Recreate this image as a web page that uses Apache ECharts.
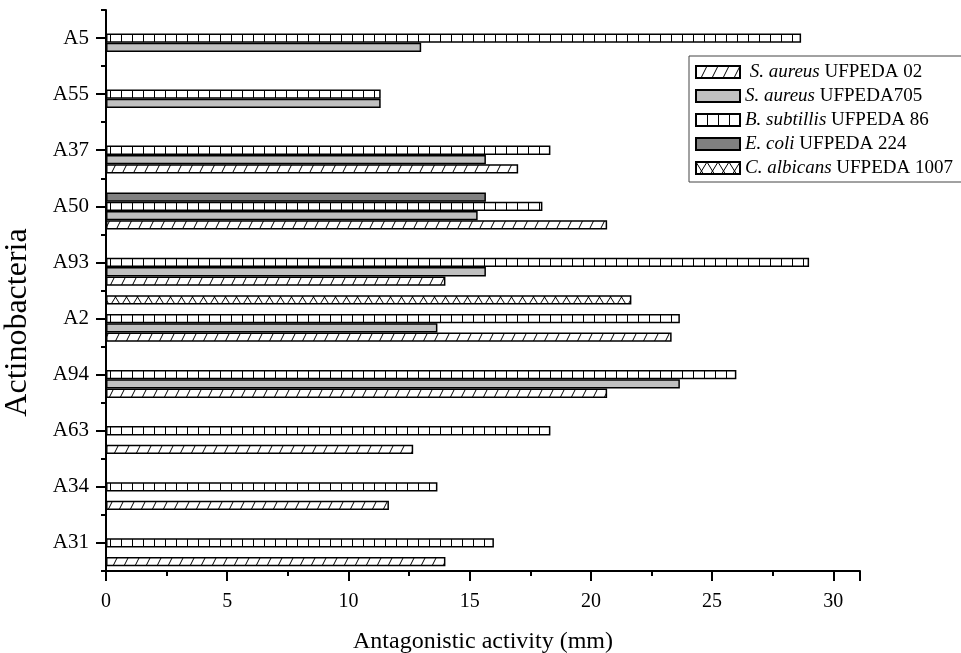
<!DOCTYPE html>
<html><head><meta charset="utf-8">
<script src="https://cdn.jsdelivr.net/npm/echarts@6/dist/echarts.min.js"></script>
<style>html,body{margin:0;padding:0;background:#fff}#c{width:961px;height:653px}</style>
</head><body><div id="c"></div>
<script>
// Data (categories from bottom to top)
const categories = ['A31','A34','A63','A94','A2','A93','A50','A37','A55','A5'];
const sAureus02   = [14.0, 11.67, 12.67, 20.67, 23.33, 14.0, 20.67, 17.0, null, null];
const sAureus705  = [null, null, null, 23.67, 13.67, 15.67, 15.33, 15.67, 11.33, 13.0];
const bSubtilis86 = [16.0, 13.67, 18.33, 26.0, 23.67, 29.0, 18.0, 18.33, 11.33, 28.67];
const eColi224    = [null, null, null, null, null, null, 15.67, null, null, null];
const cAlbicans   = [null, null, null, null, 21.67, null, null, null, null, null];
const xTicks = [0, 5, 10, 15, 20, 25, 30];

const FONT = '"Liberation Serif", "Times New Roman", serif';

function makeTile(w, h, draw) {
  const c = document.createElement('canvas');
  c.width = w; c.height = h;
  const g = c.getContext('2d');
  g.fillStyle = '#fff'; g.fillRect(0, 0, w, h);
  g.strokeStyle = '#000'; g.lineWidth = 1;
  draw(g, w, h);
  return {image: c, repeat: 'repeat'};
}
const hatch = makeTile(11, 22, (g, w, h) => {
  g.beginPath();
  for (let k = -1; k <= 1; k++) { g.moveTo(k * w, h); g.lineTo(k * w + w, 0); }
  g.stroke();
});
const vlines = makeTile(11, 4, (g, w, h) => {
  g.beginPath(); g.moveTo(0.5, 0); g.lineTo(0.5, h); g.stroke();
});
const cross = makeTile(11, 18, (g, w, h) => {
  g.beginPath();
  for (let k = -1; k <= 1; k++) {
    g.moveTo(k * w, h); g.lineTo(k * w + w, 0);
    g.moveTo(k * w, 0); g.lineTo(k * w + w, h);
  }
  g.stroke();
});

const names = {
  s02: 'S. aureus UFPEDA 02',
  s705: 'S. aureus UFPEDA705',
  bsub: 'B. subtillis UFPEDA 86',
  ecoli: 'E. coli UFPEDA 224',
  calb: 'C. albicans UFPEDA 1007'
};
const legendRich = {
  s02: ' {i|S. aureus} UFPEDA 02',
  s705: '{i|S. aureus} UFPEDA705',
  bsub: '{i|B. subtillis} UFPEDA 86',
  ecoli: '{i|E. coli} UFPEDA 224',
  calb: '{i|C. albicans} UFPEDA 1007'
};
const nameToRich = {};
Object.keys(names).forEach(k => nameToRich[names[k]] = legendRich[k]);

function bar(name, data, fill) {
  return {
    type: 'bar', name: name, data: data, yAxisIndex: 0,
    barWidth: 9.3, barGap: '0%',
    itemStyle: {color: fill, borderColor: '#000', borderWidth: 1.5},
    emphasis: {disabled: true}
  };
}

const chart = echarts.init(document.getElementById('c'), null, {renderer: 'canvas'});
chart.setOption({
  animation: false,
  backgroundColor: '#fff',
  grid: {left: 106, right: 101, top: 10, bottom: 82, containLabel: false, outerBoundsMode: 'none'},
  legend: {
    data: [names.s02, names.s705, names.bsub, names.ecoli, names.calb],
    orient: 'vertical', left: 689, top: 56,
    itemWidth: 44, itemHeight: 12, itemGap: 4,
    padding: [6, 60, 4, 6],
    borderColor: '#444', borderWidth: 1,
    icon: 'rect',
    formatter: n => nameToRich[n],
    textStyle: {
      fontFamily: FONT, fontSize: 19, lineHeight: 20, color: '#000',
      rich: {i: {fontFamily: FONT, fontSize: 19, lineHeight: 20, fontStyle: 'italic', color: '#000'}}
    }
  },
  xAxis: {
    type: 'value', min: 0, max: 31.1, interval: 5,
    name: 'Antagonistic activity (mm)', nameLocation: 'middle', nameGap: 59,
    nameTextStyle: {fontFamily: FONT, fontSize: 24, color: '#000'},
    axisLine: {show: true, lineStyle: {color: '#000', width: 2}},
    axisTick: {show: true, length: 10, lineStyle: {color: '#000', width: 2}},
    minorTick: {show: true, splitNumber: 2, length: 5, lineStyle: {color: '#000', width: 2}},
    splitLine: {show: false},
    axisLabel: {
      fontFamily: FONT, fontSize: 20, color: '#000', margin: 21,
      formatter: v => xTicks.indexOf(v) >= 0 ? String(v) : ''
    }
  },
  yAxis: [{
    type: 'category', data: categories,
    name: 'Actinobacteria', nameLocation: 'middle', nameGap: 72,
    nameTextStyle: {fontFamily: FONT, fontSize: 32, color: '#000', padding: [0, 64, 0, 0]},
    axisLine: {show: true, lineStyle: {color: '#000', width: 2}},
    axisTick: {show: true, alignWithLabel: true, length: 10, lineStyle: {color: '#000', width: 2}},
    axisLabel: {fontFamily: FONT, fontSize: 21, color: '#000', margin: 17}
  }, {
    type: 'category', data: categories, position: 'left', offset: 0,
    axisLine: {show: false},
    axisTick: {show: true, alignWithLabel: false, length: 5, lineStyle: {color: '#000', width: 2}},
    axisLabel: {show: false}
  }],
  series: [
    bar(names.calb, cAlbicans, cross),
    bar(names.ecoli, eColi224, '#808080'),
    bar(names.bsub, bSubtilis86, vlines),
    bar(names.s705, sAureus705, '#c0c0c0'),
    bar(names.s02, sAureus02, hatch)
  ]
});
</script>
</body></html>
